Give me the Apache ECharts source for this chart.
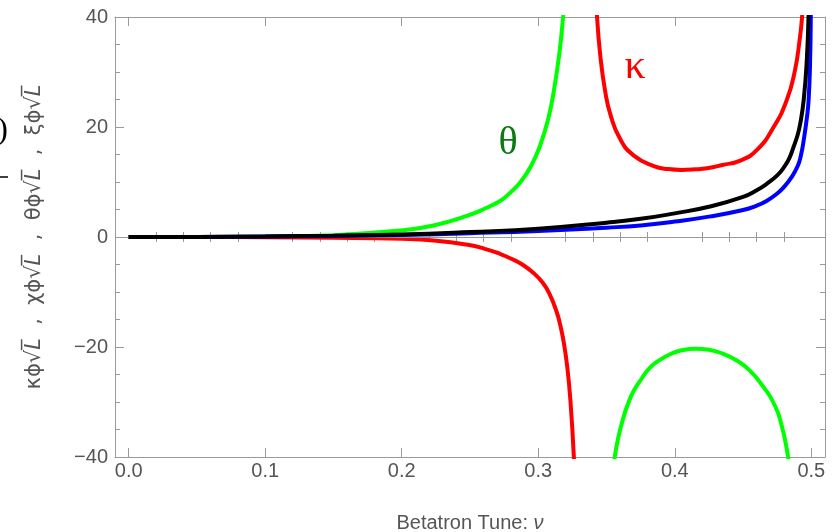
<!DOCTYPE html>
<html>
<head>
<meta charset="utf-8">
<script src="https://cdn.jsdelivr.net/npm/echarts@6/dist/echarts.min.js"></script>
<style>html,body{margin:0;padding:0;background:#fff}#c{width:834px;height:532px}</style>
</head>
<body>
<div id="c"></div>
<script>
// ---- data ----
const xMajorTicks = [0, 0.1, 0.2, 0.3, 0.4, 0.5];
const xMinorTicks = [0.02,0.04,0.06,0.08,0.12,0.14,0.16,0.18,0.22,0.24,0.26,0.28,0.32,0.34,0.36,0.38,0.42,0.44,0.46,0.48];
const yTicks = [-40, -20, 0, 20, 40];

// black (xi)
const blackTune = [0, 0.05, 0.1, 0.15, 0.2, 0.25, 0.3, 0.35, 0.375, 0.4, 0.425, 0.45, 0.46, 0.4675, 0.475, 0.48, 0.484, 0.487, 0.49, 0.492, 0.4944, 0.4965, 0.498, 0.4993];
const blackVal  = [0, 0.02, 0.1, 0.25, 0.45, 0.9, 1.5, 2.6, 3.3, 4.3, 5.5, 7.3, 8.5, 9.7, 11.2, 12.7, 14.4, 16.4, 18.6, 20.8, 24.9, 31.4, 41, 68];
// blue (chi)
const blueTune = [0, 0.05, 0.1, 0.15, 0.2, 0.25, 0.3, 0.35, 0.375, 0.4, 0.425, 0.45, 0.46, 0.4675, 0.475, 0.48, 0.485, 0.49, 0.4925, 0.4944, 0.4968, 0.498, 0.499, 0.4996, 0.4999];
const blueVal  = [0, 0.02, 0.08, 0.2, 0.38, 0.7, 1.1, 1.7, 2.1, 2.8, 3.7, 4.9, 5.7, 6.6, 7.9, 9.1, 10.7, 12.9, 15.0, 17.6, 21.8, 24.9, 31, 40, 60];
// red (kappa) lower branch
const redLowTune = [0, 0.05, 0.1, 0.15, 0.2, 0.2233, 0.2483, 0.2603, 0.2723, 0.2803, 0.2883, 0.2963, 0.3033, 0.3083, 0.3133, 0.3158, 0.3187, 0.3213, 0.3236, 0.326, 0.3275];
const redLowVal  = [0, -0.005, -0.04, -0.13, -0.34, -0.64, -1.41, -2.1, -3.1, -3.96, -5.0, -6.5, -8.33, -10.4, -13.5, -15.7, -19.2, -23.75, -29.9, -39.7, -50];
// red (kappa) upper branch
const redHighTune = [0.3405, 0.343, 0.3455, 0.349, 0.3529, 0.36, 0.37, 0.3846, 0.395, 0.405, 0.415, 0.4236, 0.435, 0.448, 0.46, 0.4724, 0.482, 0.488, 0.4915, 0.493, 0.4955];
const redHighVal  = [53, 40.2, 32.8, 26.5, 22.2, 17.8, 14.8, 12.9, 12.35, 12.2, 12.3, 12.5, 13.1, 13.9, 15.8, 20.0, 24.9, 30.3, 36, 39.4, 48.5];
// green (theta) left branch
const greenLowTune = [0, 0.05, 0.1, 0.15, 0.1993, 0.2233, 0.2483, 0.2603, 0.2723, 0.2783, 0.2873, 0.2953, 0.3013, 0.3073, 0.3113, 0.3153, 0.318, 0.3205];
const greenLowVal  = [0, 0.01, 0.08, 0.33, 1.2, 2.1, 3.9, 5.1, 6.6, 7.8, 10.1, 13.2, 16.6, 21.5, 26.4, 33.1, 39.5, 47.7];
// green (theta) right branch
const greenHighTune = [0.352, 0.356, 0.3605, 0.3675, 0.375, 0.382, 0.39, 0.3968, 0.405, 0.415, 0.425, 0.435, 0.445, 0.455, 0.465, 0.472, 0.478, 0.483, 0.486];
const greenHighVal  = [-47, -40, -34.5, -29.2, -26.0, -23.7, -22.2, -21.3, -20.6, -20.3, -20.5, -21.2, -22.4, -24.3, -27.3, -30.0, -34.0, -40, -45];

const zip = (a, b) => a.map((v, i) => [v, b[i]]);

const chart = echarts.init(document.getElementById('c'));
const frame = '#9a9a9a';
const txt = '#555555';
const tickFont = 20;
const baseX = {
  type: 'value', min: -0.01, max: 0.51,
  splitLine: { show: false },
  axisLine: { show: true, onZero: false, lineStyle: { color: frame, width: 1 } },
};
const majorX = (pos, labels) => Object.assign({}, baseX, {
  position: pos,
  axisTick: { show: true, inside: true, length: 9, customValues: xMajorTicks, lineStyle: { color: frame } },
  axisLabel: labels ? { show: true, customValues: xMajorTicks, formatter: v => v.toFixed(1), color: txt, fontSize: tickFont, fontFamily: 'Liberation Sans', margin: 4 } : { show: false },
});
const minorX = (pos) => Object.assign({}, baseX, {
  position: pos,
  axisLine: { show: false },
  axisTick: { show: true, inside: true, length: 5, customValues: xMinorTicks, lineStyle: { color: frame } },
  axisLabel: { show: false },
});
const yAx = (pos, labels) => ({
  type: 'value', min: -40, max: 40, interval: 20, position: pos,
  splitLine: { show: false },
  axisLine: { show: true, onZero: false, lineStyle: { color: frame, width: 1 } },
  axisTick: { show: true, inside: true, length: 9, lineStyle: { color: frame } },
  minorTick: { show: true, splitNumber: 4, length: 5, lineStyle: { color: frame } },
  axisLabel: labels ? { show: true, color: txt, fontSize: tickFont, fontFamily: 'Liberation Sans', margin: 7,
    formatter: v => (v < 0 ? '\u2212' + Math.abs(v) : String(v)) } : { show: false },
});

const lineSeries = (name, data, color, z) => ({
  name, type: 'line', data, xAxisIndex: 0, yAxisIndex: 0, z,
  showSymbol: false, smooth: 0.5, clip: true,
  lineStyle: { color, width: 4 }, silent: true,
});

const xAxes = [majorX('bottom', true), minorX('bottom'), majorX('top', false), minorX('top')];
xAxes[0].name = 'Betatron Tune: {i|\u03bd}';
xAxes[0].nameLocation = 'middle';
xAxes[0].nameGap = 56;
xAxes[0].nameTextStyle = { color: txt, fontSize: 20, fontFamily: 'Liberation Sans', rich: { i: { fontStyle: 'italic', color: txt, fontSize: 20, fontFamily: 'Liberation Sans' } } };

const yName = ['\u03ba', '\u03c7', '\u03b8', '\u03be'].map(g => g + '\u03d5\u221a{i|L\u0305}').join('  ,  ');

chart.setOption({
  animation: false,
  backgroundColor: '#ffffff',
  grid: { left: 115, right: 9, top: 17, bottom: 75, containLabel: false, outerBoundsMode: 'none' },
  xAxis: xAxes,
  yAxis: [yAx('left', true), yAx('right', false)],
  series: [
    { type: 'line', data: [], z: 1, silent: true,
      markLine: { silent: true, symbol: ['none', 'none'], label: { show: false },
        lineStyle: { color: '#999999', width: 1, type: 'solid' }, data: [{ yAxis: 0 }] } },
    lineSeries('theta1', zip(greenLowTune, greenLowVal), '#00ff00', 3),
    lineSeries('theta2', zip(greenHighTune, greenHighVal), '#00ff00', 3),
    lineSeries('kappa1', zip(redLowTune, redLowVal), '#ff0000', 4),
    lineSeries('kappa2', zip(redHighTune, redHighVal), '#ff0000', 4),
    lineSeries('chi', zip(blueTune, blueVal), '#0000ff', 5),
    lineSeries('xi', zip(blackTune, blackVal), '#000000', 6),
  ],
  graphic: [
    { type: 'text', x: 35, y: 237, rotation: Math.PI / 2,
      style: { text: yName,
        fill: txt, font: '21px "DejaVu Sans"', align: 'center', verticalAlign: 'middle',
        rich: { i: { fontStyle: 'italic', fill: txt, fontSize: 21, fontFamily: 'DejaVu Sans' } } } },
    { type: 'text', x: 635, y: 67, style: { text: '\u03ba', fill: '#ff0000', font: '42px "Liberation Serif"', align: 'center', verticalAlign: 'middle' } },
    { type: 'text', x: 508, y: 143, style: { text: '\u03b8', fill: '#0b7a12', font: '40px "Liberation Serif"', align: 'center', verticalAlign: 'middle' } },
    { type: 'text', x: 8, y: 131, style: { text: '0)', fill: '#000000', font: '32px "Liberation Serif"', align: 'right', verticalAlign: 'middle' } },
    { type: 'line', shape: { x1: 0, y1: 177, x2: 8, y2: 177 }, style: { stroke: '#000000', lineWidth: 1.5 } },
  ],
});
</script>
</body>
</html>
